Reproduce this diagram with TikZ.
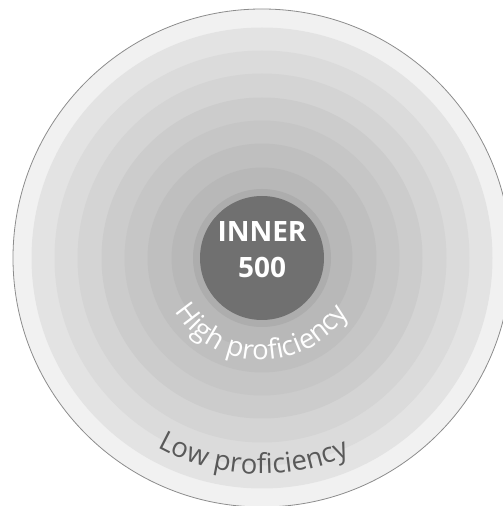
\documentclass[tikz,border=0pt]{standalone}
\usepackage{fontspec}
\setmainfont{Open Sans}
\usetikzlibrary{decorations.text}
\definecolor{band1}{gray}{0.945}
\definecolor{band2}{gray}{0.89}
\definecolor{band3}{gray}{0.86}
\definecolor{band4}{gray}{0.83}
\definecolor{band5}{gray}{0.80}
\definecolor{band6}{gray}{0.775}
\definecolor{band7}{gray}{0.75}
\definecolor{band8}{gray}{0.72}
\definecolor{halo}{gray}{0.68}
\definecolor{core}{gray}{0.44}
\definecolor{lowtext}{gray}{0.35}
\definecolor{rimline}{gray}{0.55}
\tikzset{
  ring/.style={fill=#1, draw=none},
  coretext/.style={text=white, font=\fontsize{28}{28}\selectfont\bfseries, anchor=base, inner sep=0pt},
}
\begin{document}
\begin{tikzpicture}[x=1pt,y=1pt]
\useasboundingbox (0,0) rectangle (503,506);
\clip (0,0) rectangle (503,506);
\coordinate (c) at (262,248);
\fill[band1, draw=rimline, line width=0.8pt] (c) circle[radius=249];
\fill[ring=band2] (c) circle[radius=230.5];
\fill[ring=band3] (c) circle[radius=207.5];
\fill[ring=band4] (c) circle[radius=184.5];
\fill[ring=band5] (c) circle[radius=160.5];
\fill[ring=band6] (c) circle[radius=137.5];
\fill[ring=band7] (c) circle[radius=114.5];
\fill[ring=band8] (c) circle[radius=90.5];
\fill[ring=halo] (c) circle[radius=69];
\fill[ring=core] (c) circle[radius=62];
\node[coretext] (inner) at (262,264) {INNER};
\node[coretext] (num) at (262,228) {500};
\path[decorate, decoration={text along path, text align=center,
  text={|\fontsize{27.5}{27.5}\selectfont\color{white}|High proficiency}}]
  (c) ++(-178.5:102) arc[start angle=-178.5, end angle=-2.5, radius=102];
\path[decorate, decoration={text along path, text align=center,
  text={|\fontsize{27.5}{27.5}\selectfont\color{lowtext}|Low proficiency}}]
  (c) ++(-147.5:216) arc[start angle=-147.5, end angle=-37.5, radius=216];
\end{tikzpicture}
\end{document}
